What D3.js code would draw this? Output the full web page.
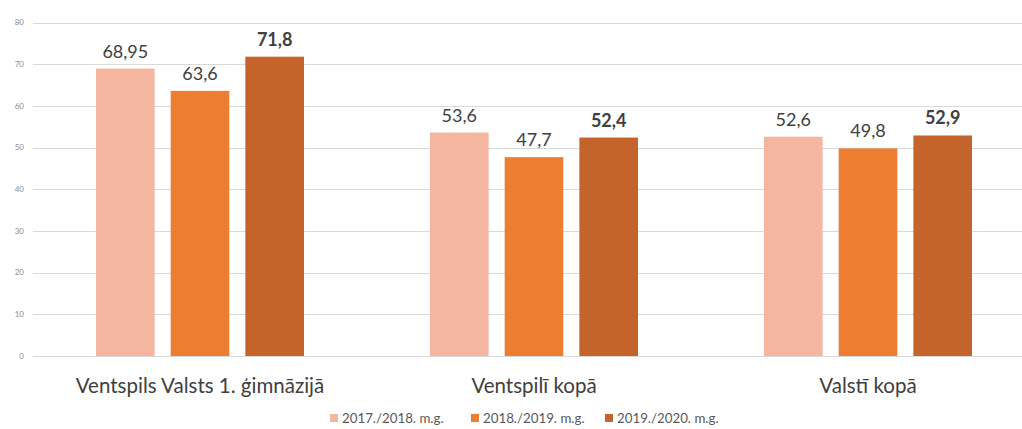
<!DOCTYPE html>
<html lang="lv">
<head>
<meta charset="UTF-8">
<title>Rezultāti</title>
<script src="https://d3js.org/d3.v7.min.js"></script>
<style>
  body { margin: 0; background: #fff; font-family: Lato, "Open Sans", sans-serif; }
  .grid line { stroke: #d9d9d9; stroke-width: 1; }
  .ytick { font-size: 8px; fill: #8c8c8c; }
  .val { font-size: 18px; fill: #404040; }
  .cat { font-size: 20.5px; fill: #404040; font-family: Lato, sans-serif; }
  .legend text { font-size: 13.3px; fill: #595959; font-family: Lato, sans-serif; }
</style>
</head>
<body>
<div id="chart"></div>
<script>
// data
const categories = ["Ventspils Valsts 1. ģimnāzijā", "Ventspilī kopā", "Valstī kopā"];
const seriesNames = ["2017./2018. m.g.", "2018./2019. m.g.", "2019./2020. m.g."];
const values2017 = [68.95, 53.6, 52.6];
const values2018 = [63.6, 47.7, 49.8];
const values2019 = [71.8, 52.4, 52.9];
const yTicks = [0, 10, 20, 30, 40, 50, 60, 70, 80];

const colors = ["#f4b6a1", "#ed7d31", "#c4632a"];
const allSeries = [values2017, values2018, values2019];

const W = 1022, H = 429;
const svg = d3.select("#chart").append("svg")
    .attr("width", W)
    .attr("height", H);

const x0 = d3.scaleBand().domain(categories).range([33, 1035]).paddingInner(0).paddingOuter(0);
const x1 = d3.scaleBand().domain(d3.range(3)).range([63, 271]).paddingInner(0.215).paddingOuter(0);
const y = d3.scaleLinear().domain([0, 80]).range([356, 22.5]);

// gridlines
svg.append("g").attr("class", "grid")
  .selectAll("line")
  .data(yTicks)
  .join("line")
    .attr("x1", 33).attr("x2", W)
    .attr("y1", d => Math.round(y(d)) + 0.5)
    .attr("y2", d => Math.round(y(d)) + 0.5);

svg.append("g")
  .selectAll("text")
  .data(yTicks)
  .join("text")
    .attr("class", "ytick")
    .attr("x", 24)
    .attr("y", d => y(d))
    .attr("dy", "0.35em")
    .attr("text-anchor", "end")
    .text(d => d);

// bars
const groups = svg.selectAll(".grp")
  .data(categories)
  .join("g")
    .attr("class", "grp")
    .attr("transform", d => "translate(" + x0(d) + ",0)");

groups.each(function(cat, ci) {
  const g = d3.select(this);
  allSeries.forEach((s, si) => {
    g.append("rect")
      .attr("x", x1(si))
      .attr("y", y(s[ci]))
      .attr("width", x1.bandwidth())
      .attr("height", y(0) - y(s[ci]))
      .attr("fill", colors[si]);
    g.append("text")
      .attr("class", "val")
      .attr("x", x1(si) + x1.bandwidth() / 2)
      .attr("y", y(s[ci]) - 11)
      .attr("text-anchor", "middle")
      .style("font-weight", si === 2 ? "bold" : "normal")
      .text(String(s[ci]).replace(".", ","));
  });
  g.append("text")
    .attr("class", "cat")
    .attr("x", x1(1) + x1.bandwidth() / 2)
    .attr("y", 393)
    .attr("text-anchor", "middle")
    .text(cat);
});

// legend
const legendX = [330, 471, 605];
const legend = svg.append("g").attr("class", "legend")
  .selectAll("g")
  .data(seriesNames)
  .join("g")
    .attr("transform", (d, i) => "translate(" + legendX[i] + ",418)");

legend.append("rect")
  .attr("x", 0).attr("y", -4)
  .attr("width", 8).attr("height", 8)
  .attr("fill", (d, i) => colors[i]);

legend.append("text")
  .attr("x", 12)
  .attr("dy", "0.35em")
  .text(d => d);
</script>
</body>
</html>
